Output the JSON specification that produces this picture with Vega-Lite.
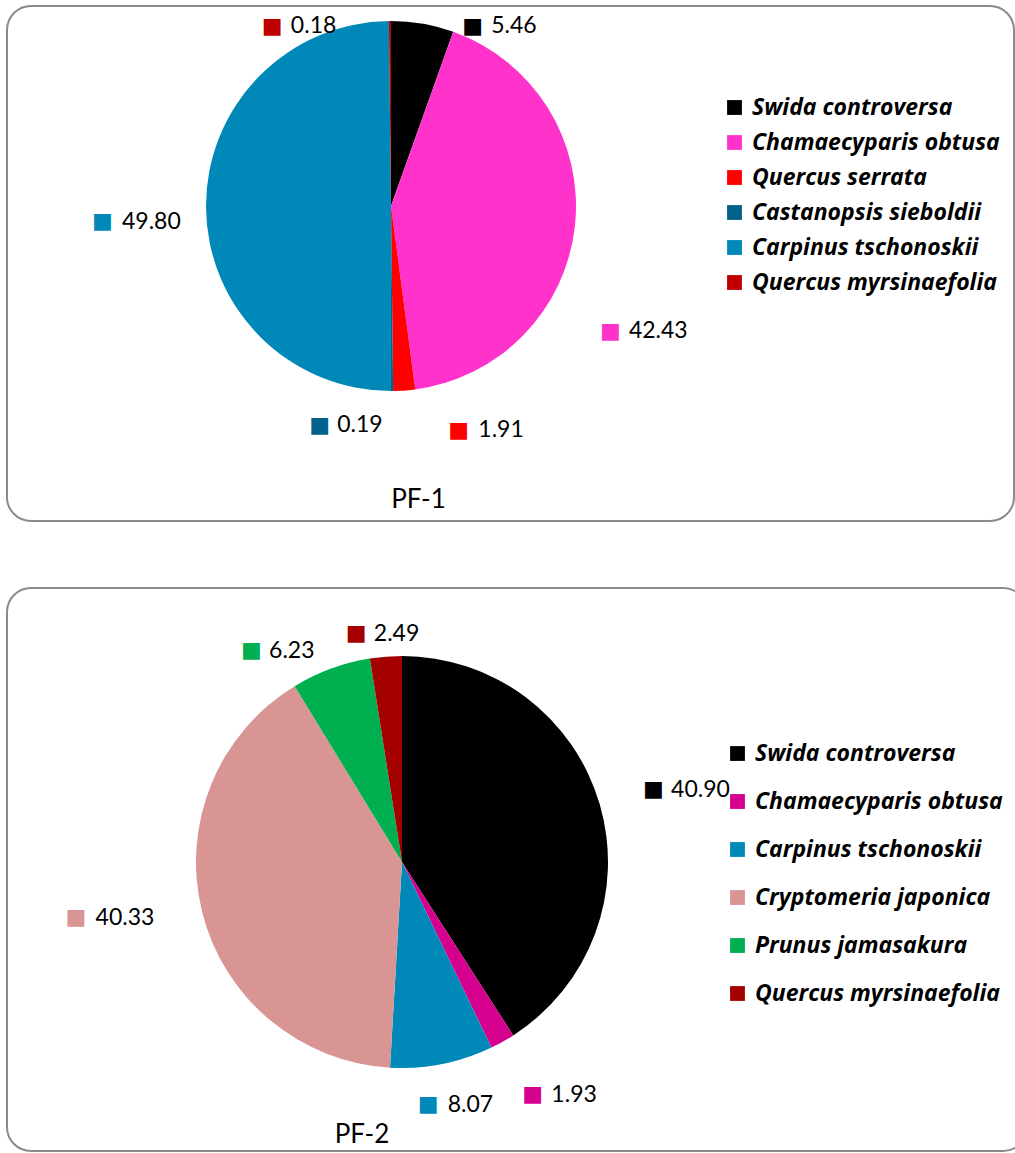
{
  "$schema": "https://vega.github.io/schema/vega-lite/v6.json",
  "background": "white",
  "padding": {"left": 6, "top": 5, "right": 0, "bottom": 0},
  "spacing": 64,
  "config": {
    "view": {"stroke": "#8a8a8a", "strokeWidth": 2, "cornerRadius": 24},
    "font": "Lato",
    "text": {"font": "Lato", "fontSize": 23, "align": "left", "baseline": "middle", "color": "#000000"},
    "title": {"font": "Lato", "fontSize": 26, "fontWeight": "normal", "color": "#000000"},
    "legend": {
      "orient": "none", "title": null, "padding": 0,
      "symbolType": "square", "symbolSize": 220, "symbolStrokeWidth": 0,
      "labelFont": "Open Sans", "labelFontSize": 23, "labelFontStyle": "italic", "labelFontWeight": "bold",
      "labelColor": "#000000", "labelOffset": 6, "labelLimit": 400
    }
  },
  "datasets": {
    "pf1": [
      {"species": "Swida controversa", "value": 5.46},
      {"species": "Chamaecyparis obtusa", "value": 42.43},
      {"species": "Quercus serrata", "value": 1.91},
      {"species": "Castanopsis sieboldii", "value": 0.19},
      {"species": "Carpinus tschonoskii", "value": 49.80},
      {"species": "Quercus myrsinaefolia", "value": 0.18}
    ],
    "pf2": [
      {"species": "Swida controversa", "value": 40.90},
      {"species": "Chamaecyparis obtusa", "value": 1.93},
      {"species": "Carpinus tschonoskii", "value": 8.07},
      {"species": "Cryptomeria japonica", "value": 40.33},
      {"species": "Prunus jamasakura", "value": 6.23},
      {"species": "Quercus myrsinaefolia", "value": 2.49}
    ]
  },
  "vconcat": [
    {
      "width": 1007,
      "height": 515,
      "data": {"name": "pf1"},
      "transform": [{"window": [{"op": "row_number", "as": "idx"}]}],
      "title": {"text": "PF-1", "orient": "bottom", "anchor": "middle", "dx": -92, "offset": -35},
      "encoding": {
        "theta": {"field": "value", "type": "quantitative", "stack": true},
        "order": {"field": "idx", "type": "quantitative"},
        "x": {"value": 384},
        "y": {"value": 200}
      },
      "layer": [
        {
          "mark": {"type": "arc", "outerRadius": 185},
          "encoding": {
            "color": {
              "field": "species", "type": "nominal",
              "scale": {
                "domain": ["Swida controversa", "Chamaecyparis obtusa", "Quercus serrata", "Castanopsis sieboldii", "Carpinus tschonoskii", "Quercus myrsinaefolia"],
                "range": ["#000000", "#FF33CC", "#FF0000", "#00628A", "#0088B9", "#C00000"]
              },
              "legend": {"legendX": 716, "legendY": 90, "rowPadding": 11}
            }
          }
        },
        {"mark": {"type": "text", "radius": 200, "dx": 66, "dy": 17},
         "encoding": {"text": {"condition": {"test": "datum.species === 'Swida controversa'", "field": "value", "type": "quantitative", "format": ".2f"}, "value": ""}}},
        {"mark": {"type": "text", "radius": 200, "dx": 37, "dy": 17, "font": "DejaVu Sans", "fontSize": 22},
         "encoding": {"text": {"condition": {"test": "datum.species === 'Swida controversa'", "value": "■"}, "value": ""}, "color": {"field": "species", "type": "nominal", "legend": null}}},
        {"mark": {"type": "text", "radius": 200, "dx": 39, "dy": 104},
         "encoding": {"text": {"condition": {"test": "datum.species === 'Chamaecyparis obtusa'", "field": "value", "type": "quantitative", "format": ".2f"}, "value": ""}}},
        {"mark": {"type": "text", "radius": 200, "dx": 10, "dy": 104, "font": "DejaVu Sans", "fontSize": 22},
         "encoding": {"text": {"condition": {"test": "datum.species === 'Chamaecyparis obtusa'", "value": "■"}, "value": ""}, "color": {"field": "species", "type": "nominal", "legend": null}}},
        {"mark": {"type": "text", "radius": 200, "dx": 73, "dy": 25},
         "encoding": {"text": {"condition": {"test": "datum.species === 'Quercus serrata'", "field": "value", "type": "quantitative", "format": ".2f"}, "value": ""}}},
        {"mark": {"type": "text", "radius": 200, "dx": 43, "dy": 25, "font": "DejaVu Sans", "fontSize": 22},
         "encoding": {"text": {"condition": {"test": "datum.species === 'Quercus serrata'", "value": "■"}, "value": ""}, "color": {"field": "species", "type": "nominal", "legend": null}}},
        {"mark": {"type": "text", "radius": 200, "dx": -55, "dy": 19},
         "encoding": {"text": {"condition": {"test": "datum.species === 'Castanopsis sieboldii'", "field": "value", "type": "quantitative", "format": ".2f"}, "value": ""}}},
        {"mark": {"type": "text", "radius": 200, "dx": -83, "dy": 19, "font": "DejaVu Sans", "fontSize": 22},
         "encoding": {"text": {"condition": {"test": "datum.species === 'Castanopsis sieboldii'", "value": "■"}, "value": ""}, "color": {"field": "species", "type": "nominal", "legend": null}}},
        {"mark": {"type": "text", "radius": 200, "dx": -69, "dy": 15},
         "encoding": {"text": {"condition": {"test": "datum.species === 'Carpinus tschonoskii'", "field": "value", "type": "quantitative", "format": ".2f"}, "value": ""}}},
        {"mark": {"type": "text", "radius": 200, "dx": -99, "dy": 14, "font": "DejaVu Sans", "fontSize": 22},
         "encoding": {"text": {"condition": {"test": "datum.species === 'Carpinus tschonoskii'", "value": "■"}, "value": ""}, "color": {"field": "species", "type": "nominal", "legend": null}}},
        {"mark": {"type": "text", "radius": 200, "dx": -99, "dy": 20},
         "encoding": {"text": {"condition": {"test": "datum.species === 'Quercus myrsinaefolia'", "field": "value", "type": "quantitative", "format": ".2f"}, "value": ""}}},
        {"mark": {"type": "text", "radius": 200, "dx": -128, "dy": 20, "font": "DejaVu Sans", "fontSize": 22},
         "encoding": {"text": {"condition": {"test": "datum.species === 'Quercus myrsinaefolia'", "value": "■"}, "value": ""}, "color": {"field": "species", "type": "nominal", "legend": null}}}
      ]
    },
    {
      "width": 1020,
      "height": 563,
      "data": {"name": "pf2"},
      "transform": [{"window": [{"op": "row_number", "as": "idx"}]}],
      "title": {"text": "PF-2", "orient": "bottom", "anchor": "middle", "dx": -155, "offset": -29},
      "encoding": {
        "theta": {"field": "value", "type": "quantitative", "stack": true},
        "order": {"field": "idx", "type": "quantitative"},
        "x": {"value": 395},
        "y": {"value": 274}
      },
      "layer": [
        {
          "mark": {"type": "arc", "outerRadius": 206},
          "encoding": {
            "color": {
              "field": "species", "type": "nominal",
              "scale": {
                "domain": ["Swida controversa", "Chamaecyparis obtusa", "Carpinus tschonoskii", "Cryptomeria japonica", "Prunus jamasakura", "Quercus myrsinaefolia"],
                "range": ["#000000", "#D6008F", "#0088B9", "#D99594", "#00B050", "#A50000"]
              },
              "legend": {"legendX": 719, "legendY": 154, "rowPadding": 24}
            }
          }
        },
        {"mark": {"type": "text", "radius": 220, "dx": 58, "dy": -10},
         "encoding": {"text": {"condition": {"test": "datum.species === 'Swida controversa'", "field": "value", "type": "quantitative", "format": ".2f"}, "value": ""}}},
        {"mark": {"type": "text", "radius": 220, "dx": 30, "dy": -11, "font": "DejaVu Sans", "fontSize": 22},
         "encoding": {"text": {"condition": {"test": "datum.species === 'Swida controversa'", "value": "■"}, "value": ""}, "color": {"field": "species", "type": "nominal", "legend": null}}},
        {"mark": {"type": "text", "radius": 220, "dx": 42, "dy": 41},
         "encoding": {"text": {"condition": {"test": "datum.species === 'Chamaecyparis obtusa'", "field": "value", "type": "quantitative", "format": ".2f"}, "value": ""}}},
        {"mark": {"type": "text", "radius": 220, "dx": 13, "dy": 40, "font": "DejaVu Sans", "fontSize": 22},
         "encoding": {"text": {"condition": {"test": "datum.species === 'Chamaecyparis obtusa'", "value": "■"}, "value": ""}, "color": {"field": "species", "type": "nominal", "legend": null}}},
        {"mark": {"type": "text", "radius": 220, "dx": 3, "dy": 27},
         "encoding": {"text": {"condition": {"test": "datum.species === 'Carpinus tschonoskii'", "field": "value", "type": "quantitative", "format": ".2f"}, "value": ""}}},
        {"mark": {"type": "text", "radius": 220, "dx": -27, "dy": 26, "font": "DejaVu Sans", "fontSize": 22},
         "encoding": {"text": {"condition": {"test": "datum.species === 'Carpinus tschonoskii'", "value": "■"}, "value": ""}, "color": {"field": "species", "type": "nominal", "legend": null}}},
        {"mark": {"type": "text", "radius": 220, "dx": -93, "dy": 3},
         "encoding": {"text": {"condition": {"test": "datum.species === 'Cryptomeria japonica'", "field": "value", "type": "quantitative", "format": ".2f"}, "value": ""}}},
        {"mark": {"type": "text", "radius": 220, "dx": -123, "dy": 2, "font": "DejaVu Sans", "fontSize": 22},
         "encoding": {"text": {"condition": {"test": "datum.species === 'Cryptomeria japonica'", "value": "■"}, "value": ""}, "color": {"field": "species", "type": "nominal", "legend": null}}},
        {"mark": {"type": "text", "radius": 220, "dx": -57, "dy": -5},
         "encoding": {"text": {"condition": {"test": "datum.species === 'Prunus jamasakura'", "field": "value", "type": "quantitative", "format": ".2f"}, "value": ""}}},
        {"mark": {"type": "text", "radius": 220, "dx": -85, "dy": -6, "font": "DejaVu Sans", "fontSize": 22},
         "encoding": {"text": {"condition": {"test": "datum.species === 'Prunus jamasakura'", "value": "■"}, "value": ""}, "color": {"field": "species", "type": "nominal", "legend": null}}},
        {"mark": {"type": "text", "radius": 220, "dx": -11, "dy": -9},
         "encoding": {"text": {"condition": {"test": "datum.species === 'Quercus myrsinaefolia'", "field": "value", "type": "quantitative", "format": ".2f"}, "value": ""}}},
        {"mark": {"type": "text", "radius": 220, "dx": -39, "dy": -10, "font": "DejaVu Sans", "fontSize": 22},
         "encoding": {"text": {"condition": {"test": "datum.species === 'Quercus myrsinaefolia'", "value": "■"}, "value": ""}, "color": {"field": "species", "type": "nominal", "legend": null}}}
      ]
    }
  ],
  "resolve": {"scale": {"color": "independent", "theta": "independent"}, "legend": {"color": "independent"}}
}
